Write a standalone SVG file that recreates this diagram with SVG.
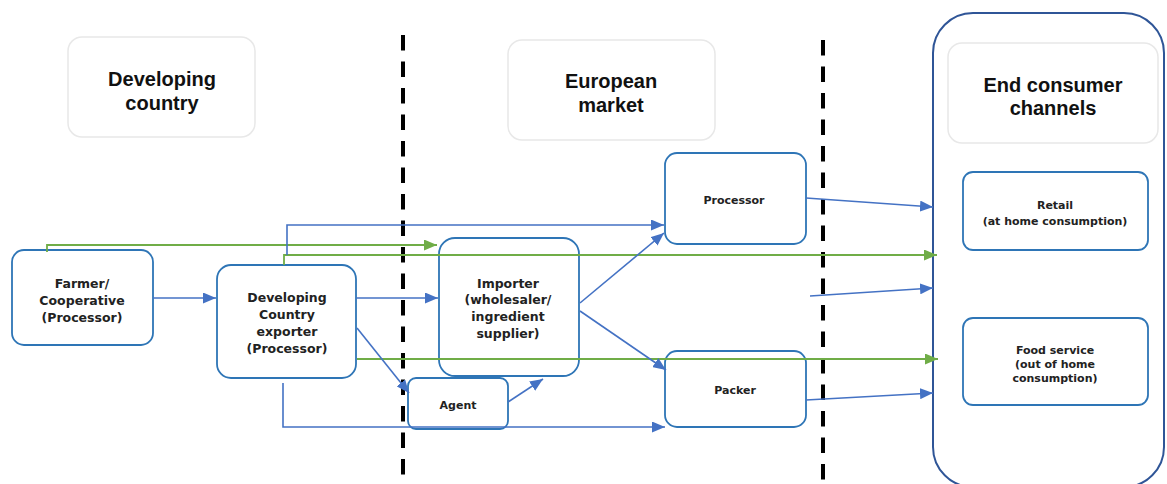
<svg xmlns="http://www.w3.org/2000/svg" width="1167" height="484" viewBox="0 0 1167 484">
<defs>
<marker id="ab" viewBox="0 0 13 11" refX="13" refY="5.5" markerWidth="13" markerHeight="11" markerUnits="userSpaceOnUse" orient="auto"><path d="M0,0 L13,5.5 L0,11 Z" fill="#4472C4"/></marker>
<marker id="ag" viewBox="0 0 13 11" refX="13" refY="5.5" markerWidth="13" markerHeight="11" markerUnits="userSpaceOnUse" orient="auto"><path d="M0,0 L13,5.5 L0,11 Z" fill="#70AD47"/></marker>
</defs>
<style>
.hdr{fill:#fff;stroke:#e8e8e8;stroke-width:1.5}
.box{fill:#fff;stroke:#2E75B6;stroke-width:1.8}
.ht{font-family:"Liberation Sans",Arial,sans-serif;font-weight:bold;font-size:20px;fill:#111;text-anchor:middle}
.bt{font-family:"DejaVu Sans",Verdana,sans-serif;font-weight:bold;font-size:12.5px;fill:#222;text-anchor:middle}
.st{font-family:"DejaVu Sans",Verdana,sans-serif;font-weight:bold;font-size:11px;fill:#222;text-anchor:middle}
.b{fill:none;stroke:#4472C4;stroke-width:1.6;marker-end:url(#ab)}
.g{fill:none;stroke:#70AD47;stroke-width:1.8;marker-end:url(#ag)}
.dash{stroke:#000;stroke-width:4;stroke-dasharray:15.5 11;fill:none}
</style>
<rect width="1167" height="484" fill="#fff"/>
<g id="dividers">
<line class="dash" x1="403" y1="35" x2="403" y2="477"/>
<line class="dash" x1="823" y1="40" x2="823" y2="480"/>
</g>
<g id="end-consumer-frame">
<rect x="933" y="13" width="231" height="474" rx="40" fill="none" stroke="#2F5597" stroke-width="2"/>
</g>
<g id="hdr-developing">
<rect class="hdr" x="68" y="37" width="187" height="100" rx="14"/>
<text class="ht" x="162" y="86">Developing</text>
<text class="ht" x="162" y="110">country</text>
</g>
<g id="hdr-european">
<rect class="hdr" x="508" y="40" width="207" height="100" rx="14"/>
<text class="ht" x="611" y="88">European</text>
<text class="ht" x="611" y="112">market</text>
</g>
<g id="hdr-end">
<rect class="hdr" x="948" y="43" width="210" height="100" rx="14"/>
<text class="ht" x="1053" y="92">End consumer</text>
<text class="ht" x="1053" y="115">channels</text>
</g>
<g id="farmer">
<rect class="box" x="12" y="250" width="141" height="95" rx="12"/>
<text class="bt" x="82" y="288">Farmer/</text>
<text class="bt" x="82" y="305">Cooperative</text>
<text class="bt" x="82" y="322">(Processor)</text>
</g>
<g id="dc-exporter">
<rect class="box" x="217" y="265" width="139" height="113" rx="14"/>
<text class="bt" x="287" y="302">Developing</text>
<text class="bt" x="287" y="319">Country</text>
<text class="bt" x="287" y="336">exporter</text>
<text class="bt" x="287" y="353">(Processor)</text>
</g>
<g id="importer">
<rect class="box" x="439" y="238" width="140" height="138" rx="16"/>
<text class="bt" x="508" y="288">Importer</text>
<text class="bt" x="508" y="304">(wholesaler/</text>
<text class="bt" x="508" y="321">ingredient</text>
<text class="bt" x="508" y="338">supplier)</text>
</g>
<g id="agent">
<rect class="box" x="408" y="378" width="100" height="51" rx="8"/>
<text class="st" x="458" y="409">Agent</text>
</g>
<g id="processor">
<rect class="box" x="665" y="153" width="141" height="91" rx="12"/>
<text class="st" x="734" y="204">Processor</text>
</g>
<g id="packer">
<rect class="box" x="665" y="351" width="141" height="76" rx="12"/>
<text class="st" x="735" y="394">Packer</text>
</g>
<g id="retail">
<rect class="box" x="963" y="172" width="185" height="78" rx="10"/>
<text class="st" x="1055" y="209">Retail</text>
<text class="st" x="1055" y="225">(at home consumption)</text>
</g>
<g id="food-service">
<rect class="box" x="963" y="318" width="185" height="87" rx="10"/>
<text class="st" x="1055" y="354">Food service</text>
<text class="st" x="1055" y="368">(out of home</text>
<text class="st" x="1055" y="382">consumption)</text>
</g>
<g id="connectors">
<path class="g" d="M47,252 V245 H437"/>
<path class="g" d="M284,265 V255 H937"/>
<path class="g" d="M357,359 H938"/>
<path class="b" d="M287,255 V225 H664"/>
<line class="b" x1="153" y1="298" x2="216" y2="298"/>
<line class="b" x1="356" y1="298" x2="438" y2="298"/>
<line class="b" x1="357" y1="328" x2="409" y2="393"/>
<path class="b" d="M283,383 V427 H665"/>
<line class="b" x1="508" y1="402" x2="543" y2="379"/>
<line class="b" x1="580" y1="303" x2="664" y2="233"/>
<line class="b" x1="580" y1="311" x2="666" y2="370"/>
<line class="b" x1="806" y1="198" x2="933" y2="207"/>
<line class="b" x1="810" y1="296" x2="933" y2="288"/>
<line class="b" x1="806" y1="400" x2="933" y2="393"/>
</g>
</svg>
